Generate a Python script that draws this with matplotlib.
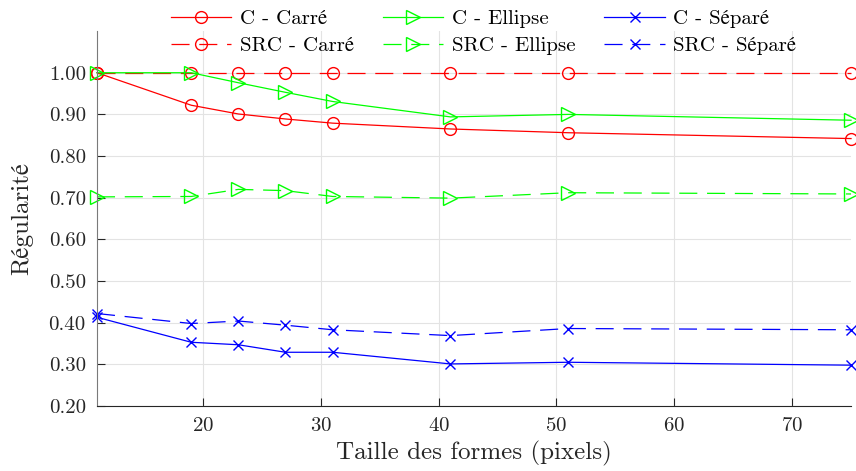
import matplotlib
matplotlib.use('Agg')
import matplotlib.pyplot as plt

# tailles des formes (pixels)
taille = [11, 19, 23, 27, 31, 41, 51, 75]

c_carre = [1.000, 0.922, 0.901, 0.889, 0.879, 0.865, 0.856, 0.842]
c_ellipse = [1.000, 1.000, 0.976, 0.953, 0.931, 0.894, 0.900, 0.886]
c_separe = [0.413, 0.353, 0.347, 0.329, 0.329, 0.301, 0.305, 0.298]

src_carre = [1.000, 1.000, 1.000, 1.000, 1.000, 1.000, 1.000, 1.000]
src_ellipse = [0.702, 0.703, 0.720, 0.717, 0.703, 0.699, 0.712, 0.709]
src_separe = [0.422, 0.398, 0.404, 0.394, 0.383, 0.369, 0.386, 0.383]

yticks = [0.2, 0.3, 0.4, 0.5, 0.6, 0.7, 0.8, 0.9, 1.0]
xticks = [20, 30, 40, 50, 60, 70]

plt.rcParams['font.family'] = ['cmr10', 'STIXGeneral', 'DejaVu Serif']
plt.rcParams['axes.formatter.use_mathtext'] = True
plt.rcParams['lines.scale_dashes'] = False

fig = plt.figure(figsize=(8.56, 4.71), dpi=100)
ax = fig.add_axes([0.1133, 0.138, 0.8809, 0.796])

dash = (0, (13, 7))
common = dict(lw=0.9, mfc='none', mew=1.0, clip_on=False)
ax.plot(taille, c_carre, color='#ff0000', ls='-', marker='o', ms=8.5, label='C - Carré', **common)
ax.plot(taille, src_carre, color='#ff0000', ls=dash, marker='o', ms=8.5, label='SRC - Carré', **common)
ax.plot(taille, c_ellipse, color='#00ff00', ls='-', marker='>', ms=10, label='C - Ellipse', **common)
ax.plot(taille, src_ellipse, color='#00ff00', ls=dash, marker='>', ms=10, label='SRC - Ellipse', **common)
ax.plot(taille, c_separe, color='#0000ff', ls='-', marker='x', ms=7.5, label='C - Séparé', **common)
ax.plot(taille, src_separe, color='#0000ff', ls=dash, marker='x', ms=7.5, label='SRC - Séparé', **common)

ax.set_xlim(11, 75)
ax.set_ylim(0.2, 1.1)
ax.set_xticks(xticks)
ax.set_yticks(yticks)
ax.set_yticklabels(['%.2f' % v for v in yticks])
ax.grid(True, color='#e3e3e3', lw=0.8)
ax.set_axisbelow(True)

for s in ['top', 'right']:
    ax.spines[s].set_visible(False)
ax.spines['left'].set_color('#7a7a7a')
ax.spines['bottom'].set_color('#262626')
ax.tick_params(axis='both', direction='in', length=6, width=0.8, labelsize=15,
               colors='#262626', pad=8)

ax.set_xlabel('Taille des formes (pixels)', fontsize=18, color='#262626', labelpad=4)
ax.set_ylabel('Régularité', fontsize=18, color='#262626', labelpad=11)

fig.legend(loc='upper center', bbox_to_anchor=(0.565, 1.01), ncol=3, frameon=False,
           fontsize=15, handlelength=2.9, handletextpad=0.4, columnspacing=1.4,
           labelspacing=0.4, borderpad=0.2)

fig.savefig('out.png', dpi=100)
